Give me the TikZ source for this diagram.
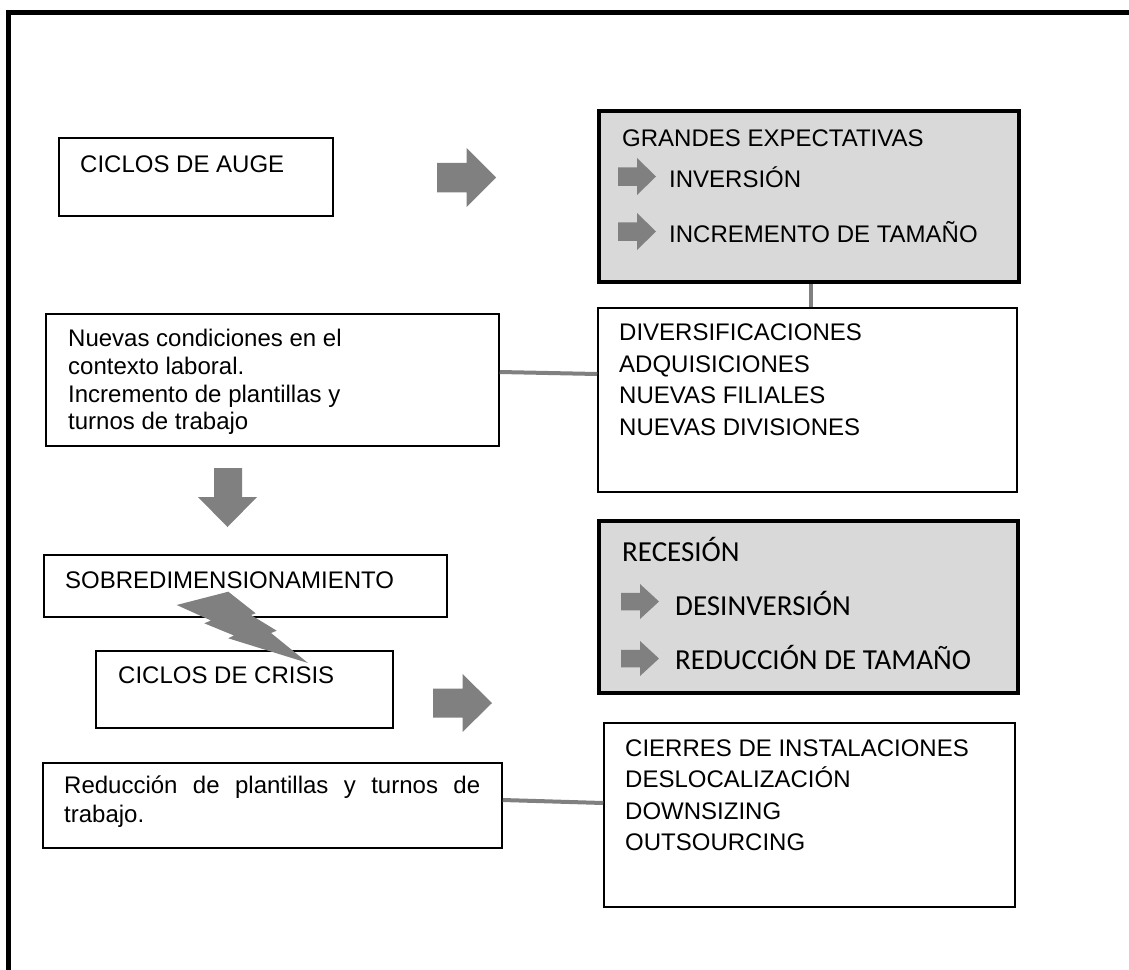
\documentclass[tikz,border=0pt]{standalone}
\usepackage{fontspec}
\setmainfont{Liberation Sans}
\newfontfamily\calibfont{Carlito}
\definecolor{arrowgrey}{HTML}{808080}
\definecolor{boxgrey}{HTML}{D9D9D9}
\tikzset{
  plainbox/.style={draw=black, line width=1.5pt, fill=white, inner sep=0pt},
  greybox/.style={draw=black, line width=3.5pt, fill=boxgrey, inner sep=0pt},
  txt/.style={anchor=base west, inner sep=0pt, font=\fontsize{24}{28}\selectfont},
  ctxt/.style={anchor=base west, inner sep=0pt, font=\calibfont\fontsize{29}{34}\selectfont},
  link/.style={draw=arrowgrey, line width=4pt},
  pics/rarrow/.style={code={
    \fill[arrowgrey] (0,-0.25) -- (0.5,-0.25) -- (0.5,-0.5) -- (1,0) -- (0.5,0.5) -- (0.5,0.25) -- (0,0.25) -- cycle;}},
}
\begin{document}
\begin{tikzpicture}[x=1pt,y=-1pt]
\useasboundingbox (0,0) rectangle (1129,969);
\clip (0,0) rectangle (1129,969);
\fill[white] (0,0) rectangle (1129,969);
% outer frame
\draw[line width=5pt] (1140,12.5) -- (8,12.5) -- (8,990);

% boxes
\node[plainbox, minimum width=274pt, minimum height=78pt] (auge) at (196,177) {};
\node[greybox, minimum width=420pt, minimum height=171pt] (grandes) at (809,196.5) {};
\node[plainbox, minimum width=419pt, minimum height=184pt] (div) at (807.5,400) {};
\node[plainbox, minimum width=453pt, minimum height=132pt] (nuevas) at (272.5,380) {};
\node[plainbox, minimum width=403pt, minimum height=62pt] (sobre) at (245.5,586) {};
\node[plainbox, minimum width=297pt, minimum height=77pt] (crisis) at (244.5,689.5) {};
\node[greybox, minimum width=419pt, minimum height=172pt] (recesion) at (808.5,607) {};
\node[plainbox, minimum width=411pt, minimum height=184pt] (cierres) at (809.5,815) {};
\node[plainbox, minimum width=459pt, minimum height=85pt] (reduccion) at (272.5,805.5) {};

% connectors
\draw[link] ([yshift=8pt]nuevas.east) -- ([yshift=26pt]div.west);
\draw[link] ([xshift=2pt]grandes.south) -- ([xshift=2pt]grandes.south |- div.north);
\draw[link] ([yshift=5.5pt]reduccion.east) -- ([yshift=12pt]cierres.west);

% block arrows
\pic[xscale=59, yscale=59] at (437,177.5) {rarrow};
\pic[xscale=59, yscale=58] at (433,703) {rarrow};
\pic[xscale=38, yscale=37] at (618,176.5) {rarrow};
\pic[xscale=38, yscale=37] at (618,231.5) {rarrow};
\pic[xscale=38, yscale=35] at (621,601.5) {rarrow};
\pic[xscale=38, yscale=35] at (621,658.5) {rarrow};
\fill[arrowgrey] (214,468) -- (242,468) -- (242,497) -- (257,497) -- (227.5,527) -- (198,497) -- (214,497) -- cycle;

% lightning bolt
\fill[arrowgrey] (176.7,605) -- (228.3,591.7) -- (255.7,613.3) -- (251,615) -- (276.7,630.7) -- (271,633)
  -- (308,663) -- (228.3,638.3) -- (234,635.5) -- (204.3,623.3) -- (211,620.5) -- cycle;

% texts
\node[txt] (t-auge) at (80,172) {CICLOS DE AUGE};
\node[txt] (t-grandes) at (622,146) {GRANDES EXPECTATIVAS};
\node[txt] (t-inv) at (669,187) {INVERSIÓN};
\node[txt] (t-inc) at (669,242) {INCREMENTO DE TAMAÑO};
\node[txt] (t-div1) at (619,340) {DIVERSIFICACIONES};
\node[txt] (t-div2) at (619,372) {ADQUISICIONES};
\node[txt] (t-div3) at (619,403) {NUEVAS FILIALES};
\node[txt] (t-div4) at (619,435) {NUEVAS DIVISIONES};
\node[txt] (t-nue1) at (68,346) {Nuevas condiciones en el};
\node[txt] (t-nue2) at (68,374) {contexto laboral.};
\node[txt] (t-nue3) at (68,402) {Incremento de plantillas y};
\node[txt] (t-nue4) at (68,429) {turnos de trabajo};
\node[txt] (t-sobre) at (65,588) {SOBREDIMENSIONAMIENTO};
\node[txt] (t-crisis) at (118,683) {CICLOS DE CRISIS};
\node[ctxt] (t-rec) at (622,561) {RECESIÓN};
\node[ctxt] (t-desinv) at (675,615) {DESINVERSIÓN};
\node[ctxt] (t-reduc) at (675,669) {REDUCCIÓN DE TAMAÑO};
\node[txt] (t-red1) at (64,793) {\makebox[416pt][s]{Reducción de plantillas y turnos de}};
\node[txt] (t-red2) at (64,822) {trabajo.};
\node[txt] (t-cie1) at (625,756) {CIERRES DE INSTALACIONES};
\node[txt] (t-cie2) at (625,787) {DESLOCALIZACIÓN};
\node[txt] (t-cie3) at (625,819) {DOWNSIZING};
\node[txt] (t-cie4) at (625,850) {OUTSOURCING};
\end{tikzpicture}
\end{document}
